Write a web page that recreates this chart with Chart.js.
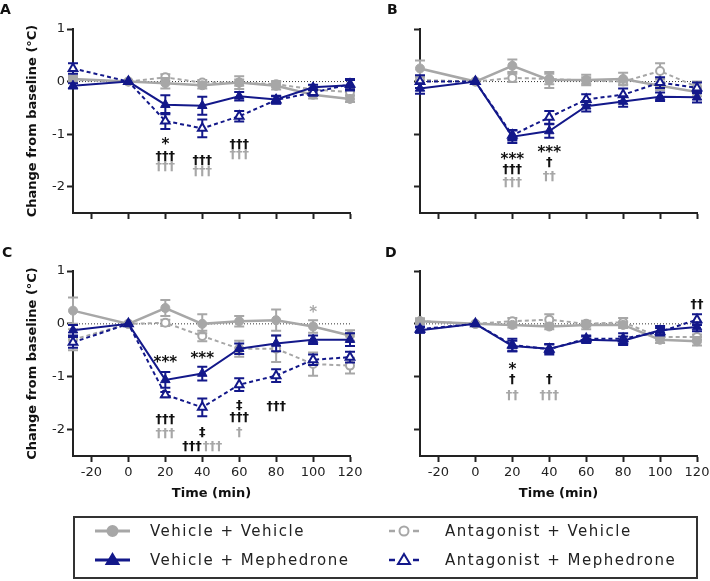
<!DOCTYPE html>
<html>
<head>
<meta charset="utf-8">
<script src="https://cdn.jsdelivr.net/npm/chart.js@4.4.0/dist/chart.umd.min.js"></script>
<style>
  body { margin: 0; background: #fff; overflow: hidden; }
  #wrap { position: relative; width: 710px; height: 581px; overflow: hidden; font-family: "DejaVu Sans", sans-serif; }
  .panel { position: absolute; }
  #legend { position: absolute; left: 73px; top: 516px; width: 625px; height: 63px; border: 2px solid #333; box-sizing: border-box; }
  .item { position: absolute; height: 20px; display: flex; align-items: center; }
  .item span { font-size: 15px; letter-spacing: 1.5px; color: #222; }
</style>
</head>
<body>
<div id="wrap">
  <canvas id="chartA" class="panel" style="left:0;top:0" width="366" height="245"></canvas>
  <canvas id="chartB" class="panel" style="left:347px;top:0" width="366" height="245"></canvas>
  <canvas id="chartC" class="panel" style="left:0;top:240px" width="366" height="265"></canvas>
  <canvas id="chartD" class="panel" style="left:347px;top:240px" width="366" height="265"></canvas>
  <div id="legend"></div>
</div>
<script>
// --- Data ---
const times = [-30, 0, 20, 40, 60, 80, 100, 120];
const xTicks = [-20, 0, 20, 40, 60, 80, 100, 120];
const yTicks = [1, 0, -1, -2];
const seriesNames = ["Vehicle + Vehicle", "Vehicle + Mephedrone", "Antagonist + Vehicle", "Antagonist + Mephedrone"];

// Panel A
const aVehVeh = [0.05, 0, -0.03, -0.07, -0.02, -0.08, -0.25, -0.33];
const aVehVehErr = [0.06, 0, 0.1, 0.06, 0.12, 0.07, 0.07, 0.06];
const aAntVeh = [0.03, 0, 0.08, -0.02, -0.02, -0.05, -0.15, -0.2];
const aAntVehErr = [0.05, 0, 0.06, 0.05, 0.06, 0.06, 0.08, 0.06];
const aVehMeph = [-0.08, 0, -0.44, -0.46, -0.28, -0.34, -0.11, -0.07];
const aVehMephErr = [0.05, 0, 0.18, 0.17, 0.08, 0.07, 0.05, 0.1];
const aAntMeph = [0.25, 0, -0.75, -0.89, -0.66, -0.35, -0.21, -0.05];
const aAntMephErr = [0.1, 0, 0.15, 0.17, 0.1, 0.07, 0.06, 0.1];

// Panel B
const bVehVeh = [0.25, 0, 0.3, 0.03, 0.03, 0.05, -0.08, -0.2];
const bVehVehErr = [0.15, 0, 0.12, 0.15, 0.1, 0.12, 0.08, 0.08];
const bAntVeh = [0.03, 0, 0.07, 0.05, 0.02, 0.0, 0.2, -0.1];
const bAntVehErr = [0.05, 0, 0.08, 0.1, 0.06, 0.05, 0.15, 0.1];
const bVehMeph = [-0.13, 0, -1.05, -0.94, -0.47, -0.38, -0.29, -0.3];
const bVehMephErr = [0.1, 0, 0.12, 0.13, 0.1, 0.1, 0.08, 0.1];
const bAntMeph = [0.0, 0, -1.02, -0.68, -0.34, -0.25, -0.02, -0.12];
const bAntMephErr = [0.12, 0, 0.1, 0.12, 0.1, 0.12, 0.1, 0.1];

// Panel C
const cVehVeh = [0.25, 0, 0.3, 0.0, 0.05, 0.07, -0.05, -0.22];
const cVehVehErr = [0.25, 0, 0.15, 0.18, 0.1, 0.2, 0.12, 0.1];
const cAntVeh = [-0.3, 0, 0.02, -0.23, -0.47, -0.47, -0.76, -0.79];
const cAntVehErr = [0.2, 0, 0.06, 0.1, 0.15, 0.25, 0.22, 0.15];
const cVehMeph = [-0.12, 0, -1.06, -0.94, -0.47, -0.37, -0.3, -0.3];
const cVehMephErr = [0.1, 0, 0.15, 0.13, 0.1, 0.15, 0.08, 0.12];
const cAntMeph = [-0.35, 0, -1.34, -1.58, -1.15, -0.98, -0.68, -0.63];
const cAntMephErr = [0.1, 0, 0.05, 0.17, 0.12, 0.12, 0.1, 0.1];

// Panel D
const dVehVeh = [0.05, 0, -0.02, -0.05, -0.02, -0.02, -0.3, -0.33];
const dVehVehErr = [0.05, 0, 0.05, 0.05, 0.08, 0.06, 0.06, 0.08];
const dAntVeh = [0.05, 0, 0.05, 0.08, 0.0, 0.03, -0.25, -0.25];
const dAntVehErr = [0.05, 0, 0.06, 0.1, 0.05, 0.08, 0.05, 0.05];
const dVehMeph = [-0.12, 0, -0.42, -0.47, -0.3, -0.32, -0.12, -0.06];
const dVehMephErr = [0.05, 0, 0.1, 0.08, 0.06, 0.08, 0.08, 0.08];
const dAntMeph = [-0.1, 0, -0.4, -0.48, -0.28, -0.28, -0.15, 0.08];
const dAntMephErr = [0.05, 0, 0.12, 0.1, 0.06, 0.1, 0.07, 0.1];

// significance marks: [time, value, text, colour]
const aMarks = [[20, -1.2, "*", "k"], [20, -1.43, "†††", "k"], [20, -1.62, "†††", "g"],
  [40, -1.5, "†††", "k"], [40, -1.71, "†††", "g"], [60, -1.2, "†††", "k"], [60, -1.39, "†††", "g"]];
const bMarks = [[20, -1.5, "***", "k"], [20, -1.68, "†††", "k"], [20, -1.92, "†††", "g"],
  [40, -1.37, "***", "k"], [40, -1.54, "†", "k"], [40, -1.81, "††", "g"]];
const cMarks = [[20, -0.75, "***", "k"], [20, -1.82, "†††", "k"], [20, -2.07, "†††", "g"],
  [40, -0.66, "***", "k"], [40, -2.05, "‡", "k"], [34.5, -2.33, "†††", "k"], [45.5, -2.33, "†††", "g"],
  [60, -1.55, "‡", "k"], [60, -1.78, "†††", "k"], [60, -2.05, "†", "g"],
  [80, -1.57, "†††", "k"], [100, 0.2, "*", "g"]];
const dMarks = [[20, -0.87, "*", "k"], [20, -1.06, "†", "k"], [20, -1.35, "††", "g"],
  [40, -1.06, "†", "k"], [40, -1.35, "†††", "g"], [120, 0.36, "††", "k"]];

// --- Styles ---
const NAVY = "#13188a";
const GREY = "#a7a7a7";
const AXIS = "#222";
const FONT = "'DejaVu Sans', sans-serif";

// --- Plugins ---
const errorBars = {
  id: "errorBars",
  beforeDatasetDraw(chart, args) {
    const ds = chart.data.datasets[args.index];
    if (!ds.errors) return;
    const { ctx, scales } = chart;
    ctx.save();
    ctx.strokeStyle = ds.borderColor;
    ctx.lineWidth = 2;
    ds.data.forEach((p, j) => {
      const e = ds.errors[j];
      if (!e) return;
      const px = scales.x.getPixelForValue(p.x);
      const top = scales.y.getPixelForValue(p.y + e);
      const bot = scales.y.getPixelForValue(p.y - e);
      ctx.beginPath();
      ctx.moveTo(px, top); ctx.lineTo(px, bot);
      ctx.moveTo(px - 5, top); ctx.lineTo(px + 5, top);
      ctx.moveTo(px - 5, bot); ctx.lineTo(px + 5, bot);
      ctx.stroke();
    });
    ctx.restore();
  },
};

const marksPlugin = {
  id: "marks",
  afterDatasetsDraw(chart, args, opts) {
    const { ctx, scales } = chart;
    ctx.save();
    ctx.textAlign = "center";
    ctx.textBaseline = "middle";
    (opts.list || []).forEach(([t, v, text, c]) => {
      ctx.fillStyle = c === "g" ? GREY : "#111";
      ctx.font = text.includes("*") ? "bold 15px " + FONT : "bold 13px " + FONT;
      ctx.fillText(text, scales.x.getPixelForValue(t), scales.y.getPixelForValue(v));
    });
    ctx.restore();
  },
};

const letterPlugin = {
  id: "letter",
  afterDraw(chart, args, opts) {
    const ctx = chart.ctx;
    ctx.save();
    ctx.font = "bold 14px " + FONT;
    ctx.fillStyle = "#111";
    ctx.textBaseline = "alphabetic";
    ctx.fillText(opts.text, opts.x, opts.y);
    ctx.restore();
  },
};

// --- Builders ---
function pts(vals) {
  return vals.map((v, i) => ({ x: times[i], y: v }));
}

function makeDatasets(vv, vvE, av, avE, vm, vmE, am, amE) {
  return [
    { label: seriesNames[1], data: pts(vm), errors: vmE, borderColor: NAVY, backgroundColor: NAVY,
      borderWidth: 2, pointStyle: "triangle", pointRadius: 5.5, pointBorderWidth: 1 },
    { label: seriesNames[3], data: pts(am), errors: amE, borderColor: NAVY, backgroundColor: "#fff",
      borderWidth: 2, borderDash: [4, 3], pointStyle: "triangle", pointRadius: 5, pointBorderWidth: 2 },
    { label: seriesNames[0], data: pts(vv), errors: vvE, borderColor: GREY, backgroundColor: GREY,
      borderWidth: 2.5, pointStyle: "circle", pointRadius: 4.5, pointBorderWidth: 1 },
    { label: seriesNames[2], data: pts(av), errors: avE, borderColor: GREY, backgroundColor: "#fff",
      borderWidth: 2, borderDash: [4, 3], pointStyle: "circle", pointRadius: 4, pointBorderWidth: 2 },
    { label: "zero", data: [{ x: -30, y: 0 }, { x: 120, y: 0 }], borderColor: "#333",
      borderWidth: 1, borderDash: [1, 2], pointRadius: 0 },
  ].map((d) => Object.assign(d, { clip: false, tension: 0, fill: false }));
}

function makeChart(id, datasets, cfg) {
  const tickOpts = { color: AXIS, font: { family: FONT, size: 13 } };
  const grid = { display: true, drawOnChartArea: false, drawTicks: true, tickLength: 6, tickWidth: 2, tickColor: AXIS };
  return new Chart(document.getElementById(id), {
    type: "line",
    data: { datasets },
    options: {
      responsive: false,
      animation: false,
      layout: { padding: { left: 0, top: cfg.top, right: 16, bottom: cfg.bottom } },
      plugins: {
        legend: { display: false },
        tooltip: { enabled: false },
        marks: { list: cfg.marks },
        letter: cfg.letter,
      },
      scales: {
        x: {
          type: "linear", min: -30, max: 120,
          afterBuildTicks: (s) => { s.ticks = xTicks.map((v) => ({ value: v })); },
          afterFit: (s) => { s.height = cfg.xHeight; },
          ticks: Object.assign({ display: cfg.xLabels, padding: 3, maxRotation: 0 }, tickOpts),
          grid,
          border: { display: true, color: AXIS, width: 2 },
          title: { display: cfg.xLabels, text: "Time (min)", color: "#111",
            font: { family: FONT, size: 13, weight: "bold" }, padding: { top: 0, bottom: 3 } },
        },
        y: {
          min: -2.5, max: 1,
          afterBuildTicks: (s) => { s.ticks = yTicks.map((v) => ({ value: v })); },
          afterFit: (s) => { s.width = 73; },
          ticks: Object.assign({ display: cfg.yLabels, padding: 2 }, tickOpts),
          grid,
          border: { display: true, color: AXIS, width: 2 },
          title: { display: cfg.yLabels, text: "Change from baseline (°C)", color: "#111",
            font: { family: FONT, size: 13, weight: "bold" }, padding: { top: 25, bottom: 0 } },
        },
      },
    },
    plugins: [errorBars, marksPlugin, letterPlugin],
  });
}

makeChart("chartA", makeDatasets(aVehVeh, aVehVehErr, aAntVeh, aAntVehErr, aVehMeph, aVehMephErr, aAntMeph, aAntMephErr),
  { top: 29, bottom: 7, xHeight: 25, xLabels: false, yLabels: true, marks: aMarks, letter: { text: "A", x: 0, y: 14 } });
makeChart("chartB", makeDatasets(bVehVeh, bVehVehErr, bAntVeh, bAntVehErr, bVehMeph, bVehMephErr, bAntMeph, bAntMephErr),
  { top: 29, bottom: 7, xHeight: 25, xLabels: false, yLabels: false, marks: bMarks, letter: { text: "B", x: 40, y: 14 } });
makeChart("chartC", makeDatasets(cVehVeh, cVehVehErr, cAntVeh, cAntVehErr, cVehMeph, cVehMephErr, cAntMeph, cAntMephErr),
  { top: 31, bottom: 1, xHeight: 48, xLabels: true, yLabels: true, marks: cMarks, letter: { text: "C", x: 2, y: 17 } });
makeChart("chartD", makeDatasets(dVehVeh, dVehVehErr, dAntVeh, dAntVehErr, dVehMeph, dVehMephErr, dAntMeph, dAntMephErr),
  { top: 31, bottom: 1, xHeight: 48, xLabels: true, yLabels: false, marks: dMarks, letter: { text: "D", x: 38, y: 17 } });

// --- Legend ---
const legendItems = [
  { name: seriesNames[0], color: GREY, shape: "circle", open: false, dashed: false, left: 20, top: 3 },
  { name: seriesNames[1], color: NAVY, shape: "triangle", open: false, dashed: false, left: 20, top: 32 },
  { name: seriesNames[2], color: GREY, shape: "circle", open: true, dashed: true, left: 314, top: 3 },
  { name: seriesNames[3], color: NAVY, shape: "triangle", open: true, dashed: true, left: 314, top: 32 },
];

function symbolSvg(it) {
  const w = it.dashed ? 30 : 35;
  const c = w / 2;
  const line = it.dashed
    ? `<line x1="0" y1="10" x2="6" y2="10" stroke="${it.color}" stroke-width="2.5"/>` +
      `<line x1="${w - 6}" y1="10" x2="${w}" y2="10" stroke="${it.color}" stroke-width="2.5"/>`
    : `<line x1="0" y1="10" x2="${w}" y2="10" stroke="${it.color}" stroke-width="3"/>`;
  const fill = it.open ? "#fff" : it.color;
  const mark = it.shape === "circle"
    ? `<circle cx="${c}" cy="10" r="${it.open ? 4.5 : 5}" fill="${fill}" stroke="${it.color}" stroke-width="2"/>`
    : `<polygon points="${c},4 ${c + 6},14 ${c - 6},14" fill="${fill}" stroke="${it.color}" stroke-width="2"/>`;
  return `<svg width="${w}" height="20" style="margin-right:${it.dashed ? 26 : 20}px">${line}${mark}</svg>`;
}

const legend = document.getElementById("legend");
legendItems.forEach((it) => {
  const div = document.createElement("div");
  div.className = "item";
  div.style.left = it.left + "px";
  div.style.top = it.top + "px";
  div.innerHTML = symbolSvg(it) + `<span>${it.name}</span>`;
  legend.appendChild(div);
});
</script>
</body>
</html>
